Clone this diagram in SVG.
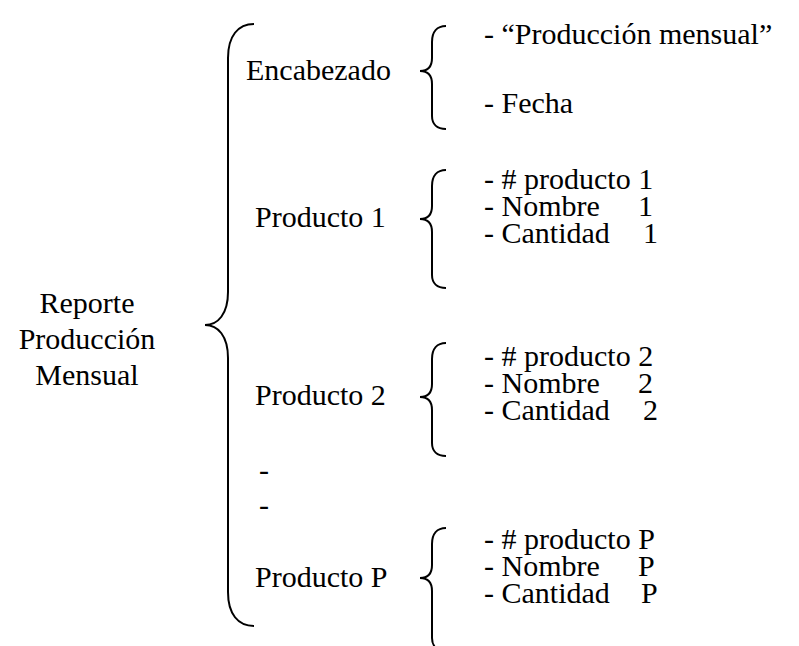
<svg xmlns="http://www.w3.org/2000/svg" width="799" height="646" viewBox="0 0 799 646">
<style>
text{font-family:"Liberation Serif","Times New Roman",serif;font-size:30px;fill:#000}
.b{fill:none;stroke:#000;stroke-width:2}
</style>
<rect width="799" height="646" fill="#fff"/>
<g id="root">
<text x="87" y="313" text-anchor="middle">Reporte</text>
<text x="87" y="349" text-anchor="middle">Producción</text>
<text x="87" y="385" text-anchor="middle">Mensual</text>
</g>
<g id="connectors">
<path class="b" d="M254,24 C238,24 228,36 228,58 L228,292 C228,314 218,325 205,325 C218,325 228,336 228,358 L228,592 C228,614 238,626 254,626"/>
<path class="b" d="M446,26 C437,26 432,32 432,42 L432,58 C432,66 428,71 420,71 C428,71 432,76 432,84 L432,116 C432,124 437,129 446,129"/>
<path class="b" d="M446,170 C437,170 432,176 432,186 L432,206 C432,214 428,219 420,219 C428,219 432,224 432,232 L432,275 C432,283 437,288 446,288"/>
<path class="b" d="M446,343 C437,343 432,349 432,359 L432,384 C432,392 428,397 420,397 C428,397 432,402 432,410 L432,443 C432,451 437,456 446,456"/>
<path class="b" d="M446,528 C437,528 432,534 432,544 L432,565 C432,573 428,578 420,578 C428,578 432,583 432,591 L432,638 C432,646 437,651 446,651"/>
</g>
<g id="encabezado">
<text x="246" y="80">Encabezado</text>
<text x="484" y="44">- “Producción mensual”</text>
<text x="484" y="113">- Fecha</text>
</g>
<g id="producto1">
<text x="255" y="227">Producto 1</text>
<text x="484" y="189">- # producto 1</text>
<text x="484" y="216">- Nombre<tspan x="638">1</tspan></text>
<text x="484" y="243">- Cantidad<tspan x="643">1</tspan></text>
</g>
<g id="producto2">
<text x="255" y="405">Producto 2</text>
<text x="484" y="366">- # producto 2</text>
<text x="484" y="393">- Nombre<tspan x="638">2</tspan></text>
<text x="484" y="420">- Cantidad<tspan x="643">2</tspan></text>
</g>
<g id="dots">
<text x="259" y="480">-</text>
<text x="259" y="515">-</text>
</g>
<g id="productoP">
<text x="255" y="587">Producto P</text>
<text x="484" y="549">- # producto P</text>
<text x="484" y="576">- Nombre<tspan x="638">P</tspan></text>
<text x="484" y="603">- Cantidad<tspan x="641">P</tspan></text>
</g>
</svg>
